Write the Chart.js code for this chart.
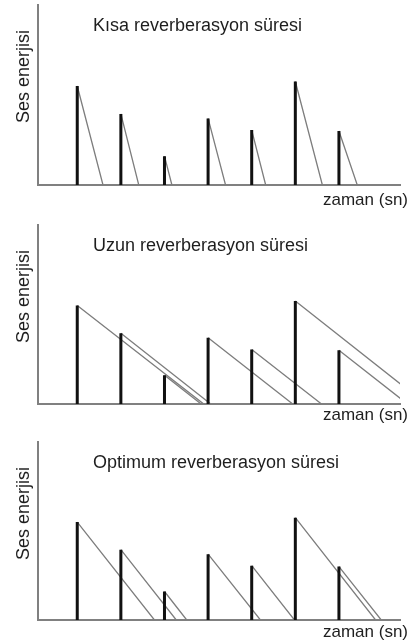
<!DOCTYPE html>
<html><head><meta charset="utf-8">
<script src="https://cdn.jsdelivr.net/npm/chart.js@4.4.0/dist/chart.umd.min.js"></script>
<style>
body{margin:0;background:#fff;}
canvas{position:absolute;left:0;}
</style></head><body>
<canvas id="c1" width="412" height="215" style="top:0px"></canvas>
<canvas id="c2" width="412" height="215" style="top:220px"></canvas>
<canvas id="c3" width="412" height="207" style="top:437px"></canvas>
<script>
// ========== Data ==========
const spikeTimes=[1,2,3,4,5,6,7];
const spikeHeights=[5.5,3.95,1.6,3.7,3.05,5.75,3.0];
const shortEnds=[1.59,2.41,3.17,4.40,5.32,6.62,7.42];
const longEnds=[3.90,4.06,3.84,5.94,6.60,8.99,8.57];
const optimumEnds=[2.77,3.27,3.51,5.20,5.98,7.84,7.97];
const titles=['Kısa reverberasyon süresi','Uzun reverberasyon süresi','Optimum reverberasyon süresi'];
const yLabel='Ses enerjisi', xLabel='zaman (sn)';
const xMin=0.1, xMax=8.4, yMax=10;

const FONT='"Liberation Sans", Arial, sans-serif';

// ========== Build points ==========
function spikePoints(){
    const pts=[];
    spikeTimes.forEach((t,i)=>{pts.push({x:t,y:0},{x:t,y:spikeHeights[i]},{x:t,y:null});});
    return pts;
}
function decayPoints(ends){
    const pts=[];
    spikeTimes.forEach((t,i)=>{pts.push({x:t,y:spikeHeights[i]},{x:ends[i],y:0},{x:ends[i],y:null});});
    return pts;
}

// ========== Labels plugin ==========
const labelsPlugin={
    id:'labels',
    afterDraw(chart,args,opts){
        const ctx=chart.ctx, a=chart.chartArea;
        ctx.save();
        ctx.fillStyle='#1e1e1e';
        ctx.font='18px '+FONT;
        ctx.textBaseline='alphabetic';
        ctx.textAlign='left';
        ctx.fillText(opts.title,93,a.top+26);
        ctx.save();
        ctx.translate(28.5,a.top+118);
        ctx.rotate(-Math.PI/2);
        ctx.fillText(yLabel,0,0);
        ctx.restore();
        ctx.font='17px '+FONT;
        ctx.textAlign='right';
        ctx.fillText(xLabel,408,a.bottom+opts.xGap);
        ctx.restore();
    }
};

// ========== Panels ==========
function makePanel(id,ends,title,pad,xGap){
    new Chart(document.getElementById(id),{
        type:'line',
        data:{datasets:[
            {data:spikePoints(),borderColor:'#111',borderWidth:3,pointRadius:0,spanGaps:false,borderCapStyle:'butt'},
            {data:decayPoints(ends),borderColor:'#7d7d7d',borderWidth:1.3,pointRadius:0,spanGaps:false}
        ]},
        options:{
            responsive:false,animation:false,devicePixelRatio:1,
            layout:{padding:pad},
            plugins:{legend:{display:false},tooltip:{enabled:false},labels:{title,xGap}},
            scales:{
                x:{type:'linear',min:xMin,max:xMax,grid:{display:false},ticks:{display:false},
                   border:{display:true,color:'#808080',width:2}},
                y:{min:0,max:yMax,grid:{display:false},ticks:{display:false},
                   border:{display:true,color:'#808080',width:2}}
            }
        },
        plugins:[labelsPlugin]
    });
}

makePanel('c1',shortEnds,titles[0],{left:30,right:12,top:5,bottom:22},20);
makePanel('c2',longEnds,titles[1],{left:30,right:12,top:5,bottom:23},16);
makePanel('c3',optimumEnds,titles[2],{left:30,right:12,top:5,bottom:16},17);
</script>
</body></html>
